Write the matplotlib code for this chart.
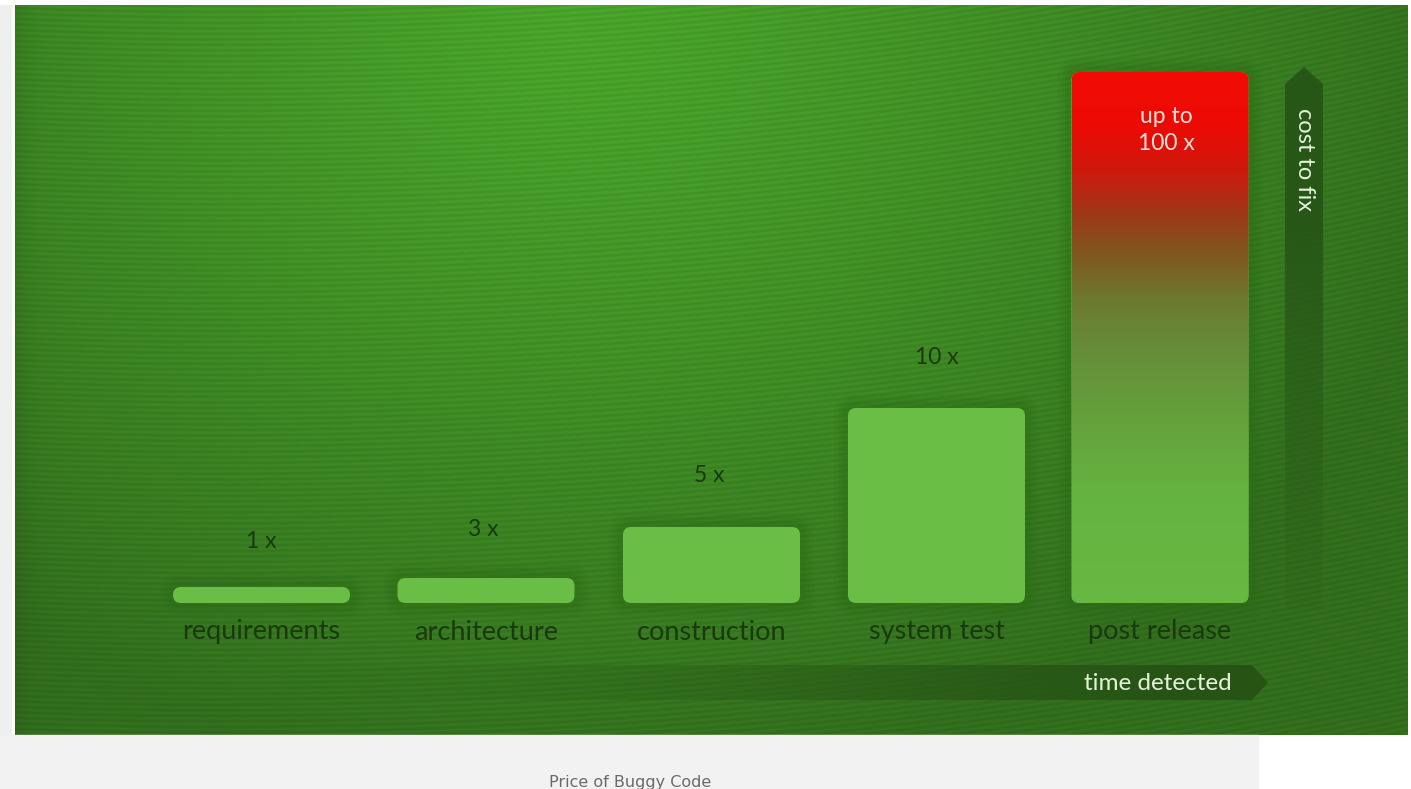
import numpy as np
import matplotlib
matplotlib.use("Agg")
import matplotlib.pyplot as plt
from matplotlib.patches import FancyBboxPatch, Rectangle, Polygon
from matplotlib.colors import LinearSegmentedColormap

# ---- data ----
categories = ["requirements", "architecture", "construction", "system test", "post release"]
value_labels = ["1 x", "3 x", "5 x", "10 x", "up to\n100 x"]
bar_heights = [16, 25, 76, 195, 531]          # drawn height (relative units)
caption = "Price of Buggy Code"
x_axis_label = "time detected"
y_axis_label = "cost to fix"

W_PX, H_PX = 1411, 789
fig = plt.figure(figsize=(W_PX / 100, H_PX / 100), dpi=100)
fig.patch.set_facecolor("white")

# figure-level light gray strips
fig.patches.append(Rectangle((0, 0), 1258 / W_PX, 54 / H_PX, transform=fig.transFigure,
                             color="#f2f2f2", zorder=0))
fig.patches.append(Rectangle((0, 54 / H_PX), 11 / W_PX, 730 / H_PX, transform=fig.transFigure,
                             color="#eef0ee", zorder=0))

# ---- background panel ----
bg = fig.add_axes([15 / W_PX, 54 / H_PX, (1408 - 15) / W_PX, 730 / H_PX])
Hh, Ww = 730, 1393
yy, xx = np.mgrid[0:Hh, 0:Ww].astype(float)
d = np.sqrt(((xx - 560) / 900) ** 2 + ((yy - 20) / 760) ** 2)
t = np.clip(d, 0, 1) ** 1.2
light = np.array([0x4c, 0xaa, 0x2c]) / 255
dark = np.array([0x34, 0x72, 0x1e]) / 255
img = light[None, None, :] * (1 - t[..., None]) + dark[None, None, :] * t[..., None]
# darker band along the left edge
edge = np.exp(-xx / 12.0) * 0.10
img = img * (1 - edge[..., None])
r = np.sqrt((xx - 200) ** 2 + (yy + 5000) ** 2)
s = 0.5 + 0.5 * np.sin(2 * np.pi * r / 5.5)
img = img * (1 - 0.08 * s[..., None])
bg.imshow(np.clip(img, 0, 1), aspect="auto", interpolation="bilinear")
bg.set_axis_off()

# ---- main axes (data y = 603 - pixel_y) ----
ax = fig.add_axes([0, 0, 1, 1])
ax.set_xlim(0, W_PX)
ax.set_ylim(603 - H_PX, 603)
ax.set_axis_off()
ax.patch.set_alpha(0)

centers = [261.5, 486, 711.5, 936.5, 1160]
bar_w = 177
bars = ax.bar(centers, bar_heights, width=bar_w, bottom=0, color="#6abd45", zorder=3)

grad_cmap = LinearSegmentedColormap.from_list(
    "pr", [(0.0, "#68b843"), (0.22, "#65b240"), (0.34, "#64a23c"), (0.46, "#66903a"),
           (0.57, "#6c7a30"), (0.66, "#80561f"), (0.74, "#a23518"), (0.82, "#d0180c"),
           (0.9, "#ec0b06"), (1.0, "#f20a04")])

for i, rect in enumerate(bars):
    x0, y0 = rect.get_x(), rect.get_y()
    w, h = rect.get_width(), rect.get_height()
    rad = min(8, h / 2)
    # glow / shadow around bar
    for k, a in [(14, 0.10), (10, 0.14), (6, 0.2)]:
        glow = FancyBboxPatch((x0 - k, y0 - k), w + 2 * k, h + 2 * k,
                              boxstyle=f"round,pad=0,rounding_size={rad + k}",
                              fc="#2a6a16", ec="none", alpha=a, zorder=2)
        ax.add_patch(glow)
    rp = FancyBboxPatch((x0, y0), w, h, boxstyle=f"round,pad=0,rounding_size={rad}",
                        fc=rect.get_facecolor(), ec="none", zorder=3)
    ax.add_patch(rp)
    rect.set_visible(False)
    if i == len(bars) - 1:
        grad = np.linspace(0, 1, 256)[:, None]
        im = ax.imshow(grad, cmap=grad_cmap, origin="lower", aspect="auto",
                       extent=(x0, x0 + w, y0, y0 + h), zorder=4)
        im.set_clip_path(rp)

dark_txt = "#1b3811"
label_font = ["Lato", "DejaVu Sans"]
value_offsets = [(0, 46), (-3, 48), (-2, 52), (0, 51)]
for i, (c, h) in enumerate(zip(centers, bar_heights)):
    ax.text(c, -29, categories[i], ha="center", va="center", fontsize=19.5,
            color=dark_txt, family=label_font, zorder=6)
    if i < len(bars) - 1:
        dx, dy = value_offsets[i]
        ax.text(c + dx, h + dy, value_labels[i], ha="center", va="center", fontsize=16.5,
                color=dark_txt, family=label_font, zorder=6)
ax.text(centers[-1] + 6, bar_heights[-1] - 58, value_labels[-1], ha="center", va="center",
        fontsize=16.5, color="#f6e2da", family=label_font, linespacing=1.35, zorder=6)

# ---- time detected arrow (horizontal, fading to left) ----
ax_y0, ax_y1 = 603 - 700, 603 - 665
tip_x, shoulder_x, left_x = 1268, 1252, 250
hgrad = np.linspace(0, 1, 512)[None, :] ** 1.6
hcol = np.zeros((1, 512, 4))
hcol[..., 0], hcol[..., 1], hcol[..., 2] = 0x26 / 255, 0x52 / 255, 0x15 / 255
hcol[..., 3] = np.clip(hgrad * 1.1, 0, 0.92)
arrow_h = Polygon([(left_x, ax_y0), (shoulder_x, ax_y0), (tip_x, (ax_y0 + ax_y1) / 2),
                   (shoulder_x, ax_y1), (left_x, ax_y1)], closed=True, fc="none", ec="none")
ax.add_patch(arrow_h)
imh = ax.imshow(hcol, aspect="auto", extent=(left_x, tip_x, ax_y0, ax_y1), zorder=2.5)
imh.set_clip_path(arrow_h)
ax.text(1158, 603 - 683, x_axis_label, ha="center", va="center", fontsize=17.5,
        color="#e4f0da", family=label_font, zorder=6)

# ---- cost to fix arrow (vertical, fading downward) ----
vx0, vx1 = 1285, 1323
vtip, vshoulder, vbottom = 603 - 67, 603 - 84, 603 - 610
vgrad = np.linspace(0, 1, 512)[:, None] ** 1.2
vcol = np.zeros((512, 1, 4))
vcol[..., 0], vcol[..., 1], vcol[..., 2] = 0x26 / 255, 0x54 / 255, 0x17 / 255
vcol[..., 3] = np.clip(0.1 + vgrad * 1.2, 0, 0.9)
arrow_v = Polygon([(vx0, vbottom), (vx0, vshoulder), ((vx0 + vx1) / 2, vtip),
                   (vx1, vshoulder), (vx1, vbottom)], closed=True, fc="none", ec="none")
ax.add_patch(arrow_v)
imv = ax.imshow(vcol, aspect="auto", origin="lower",
                extent=(vx0, vx1, vbottom, vtip), zorder=2.5)
imv.set_clip_path(arrow_v)
ax.text(1304, 603 - 160, y_axis_label, ha="center", va="center", fontsize=17,
        rotation=270, color="#e4f0da", family=label_font, zorder=6)

# ---- caption ----
fig.text(630 / W_PX, 2 / H_PX, caption, ha="center", va="baseline", fontsize=11.5,
         color="#6a6a6a", family=["DejaVu Sans"])

fig.savefig("out.png", dpi=100)
